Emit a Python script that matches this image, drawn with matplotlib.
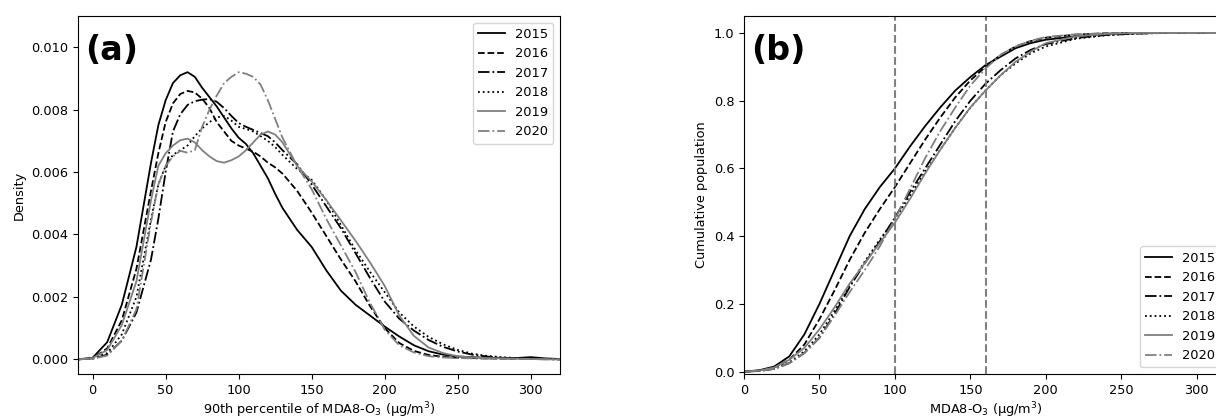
import numpy as np
import matplotlib
matplotlib.use("Agg")
import matplotlib.pyplot as plt

years = ["2015", "2016", "2017", "2018", "2019", "2020"]
colors = ["black", "black", "black", "black", "gray", "gray"]
styles = ["-", "--", "-.", ":", "-", "-."]

# Panel (a): density curves (values x 1e-3)
xa = [-10, 0, 10, 20, 30, 40, 45, 50, 55, 60, 65, 70, 75, 80, 85, 90, 95, 100, 105, 110, 115, 120, 125, 130,
      140, 150, 160, 170, 180, 190, 200, 210, 220, 230, 240, 250, 260, 270, 280, 290, 300, 310, 320]
dens_2015 = [0, 0.05, 0.55, 1.75, 3.6, 6.3, 7.5, 8.3, 8.85, 9.1, 9.2, 9.05, 8.7, 8.4, 8.1, 7.75, 7.4, 7.1, 6.9, 6.6, 6.2, 5.8, 5.3, 4.85,
             4.15, 3.6, 2.85, 2.2, 1.75, 1.4, 1.05, 0.73, 0.45, 0.26, 0.15, 0.09, 0.07, 0.05, 0.04, 0.04, 0.07, 0.03, 0.01]
dens_2016 = [0, 0.03, 0.35, 1.25, 2.9, 5.4, 6.6, 7.6, 8.2, 8.5, 8.6, 8.55, 8.35, 8.05, 7.6, 7.3, 7.0, 6.85, 6.75, 6.65, 6.5, 6.3, 6.15, 5.95,
             5.4, 4.7, 3.95, 3.2, 2.5, 1.7, 1.0, 0.52, 0.27, 0.14, 0.08, 0.05, 0.04, 0.03, 0.02, 0.02, 0.02, 0.01, 0.0]
dens_2017 = [0, 0.02, 0.15, 0.6, 1.5, 3.2, 4.5, 6.0, 7.3, 7.85, 8.15, 8.27, 8.32, 8.34, 8.25, 8.05, 7.8, 7.57, 7.45, 7.35, 7.25, 7.15, 6.95, 6.7,
             6.25, 5.6, 4.9, 4.2, 3.4, 2.6, 1.85, 1.3, 0.92, 0.62, 0.4, 0.25, 0.15, 0.09, 0.05, 0.03, 0.02, 0.01, 0.0]
dens_2018 = [0, 0.03, 0.2, 0.8, 2.0, 4.5, 5.6, 6.2, 6.55, 6.7, 6.85, 7.15, 7.4, 7.6, 7.75, 7.8, 7.65, 7.45, 7.38, 7.3, 7.15, 7.0, 6.8, 6.55,
             6.1, 5.75, 5.1, 4.3, 3.5, 2.8, 2.15, 1.5, 1.05, 0.72, 0.48, 0.3, 0.18, 0.11, 0.07, 0.04, 0.03, 0.01, 0.0]
dens_2019 = [0, 0.04, 0.3, 1.1, 2.5, 5.1, 6.2, 6.6, 6.85, 7.02, 7.07, 6.95, 6.7, 6.5, 6.35, 6.3, 6.38, 6.5, 6.7, 6.95, 7.2, 7.3, 7.2, 6.95,
             6.2, 5.7, 5.1, 4.45, 3.8, 3.1, 2.35, 1.4, 0.75, 0.38, 0.2, 0.1, 0.06, 0.04, 0.03, 0.02, 0.01, 0.0, 0.0]
dens_2020 = [0, 0.02, 0.12, 0.6, 1.6, 4.4, 5.6, 6.2, 6.5, 6.68, 6.62, 6.7, 7.45, 8.0, 8.45, 8.85, 9.05, 9.2, 9.15, 9.05, 8.8, 8.3, 7.7, 7.1,
             6.2, 5.45, 4.5, 3.65, 2.8, 1.8, 0.95, 0.45, 0.22, 0.1, 0.06, 0.04, 0.03, 0.02, 0.02, 0.01, 0.01, 0.0, 0.0]

# Panel (b): cumulative population
xb = [0, 10, 20, 30, 40, 50, 60, 70, 80, 90, 100, 110, 120, 130, 140, 150, 160, 170, 180, 190, 200, 220, 240, 260, 280, 300, 320]
cum_2015 = [0, 0.004, 0.015, 0.045, 0.11, 0.20, 0.30, 0.40, 0.48, 0.545, 0.60, 0.665, 0.725, 0.78, 0.83, 0.87, 0.905, 0.93, 0.955, 0.97, 0.98, 0.99, 0.997, 0.999, 1.0, 1.0, 1.0]
cum_2016 = [0, 0.003, 0.012, 0.035, 0.08, 0.155, 0.24, 0.33, 0.41, 0.48, 0.545, 0.615, 0.685, 0.75, 0.81, 0.86, 0.90, 0.935, 0.96, 0.976, 0.986, 0.995, 0.999, 1.0, 1.0, 1.0, 1.0]
cum_2017 = [0, 0.002, 0.008, 0.025, 0.055, 0.10, 0.17, 0.25, 0.32, 0.385, 0.455, 0.53, 0.60, 0.67, 0.74, 0.80, 0.85, 0.89, 0.925, 0.95, 0.967, 0.985, 0.994, 0.998, 1.0, 1.0, 1.0]
cum_2018 = [0, 0.002, 0.009, 0.027, 0.06, 0.11, 0.18, 0.255, 0.325, 0.39, 0.45, 0.52, 0.59, 0.655, 0.72, 0.78, 0.83, 0.875, 0.91, 0.94, 0.96, 0.983, 0.993, 0.998, 1.0, 1.0, 1.0]
cum_2019 = [0, 0.003, 0.012, 0.035, 0.07, 0.125, 0.19, 0.26, 0.32, 0.38, 0.44, 0.51, 0.585, 0.655, 0.72, 0.78, 0.83, 0.875, 0.915, 0.945, 0.97, 0.99, 0.997, 1.0, 1.0, 1.0, 1.0]
cum_2020 = [0, 0.002, 0.008, 0.025, 0.055, 0.10, 0.165, 0.235, 0.30, 0.37, 0.45, 0.54, 0.63, 0.71, 0.78, 0.845, 0.895, 0.935, 0.96, 0.977, 0.988, 0.996, 0.999, 1.0, 1.0, 1.0, 1.0]

dens = [dens_2015, dens_2016, dens_2017, dens_2018, dens_2019, dens_2020]
cums = [cum_2015, cum_2016, cum_2017, cum_2018, cum_2019, cum_2020]
thresholds = [100, 160]

plt.rcParams['font.family'] = ['DejaVu Sans']
plt.rcParams['font.size'] = 9.3

fig = plt.figure(figsize=(12.16, 4.19), dpi=100)
W, H = 1216, 419
ax1 = fig.add_axes([78 / W, (H - 374) / H, 482 / W, 358 / H])
ax2 = fig.add_axes([744 / W, (H - 374) / H, 483 / W, 358 / H])

lw = 1.3
for y, d, c, s in zip(years, dens, colors, styles):
    ax1.plot(xa, np.array(d) * 1e-3, color=c, ls=s, lw=lw, label=y)
ax1.set_xlim(-10, 320)
ax1.set_ylim(-0.00047, 0.011)
ax1.set_yticks([0, 0.002, 0.004, 0.006, 0.008, 0.010])
ax1.set_ylabel("Density")
ax1.set_xlabel("90th percentile of MDA8-O$_3$ (μg/m$^3$)", labelpad=2.5)
ax1.legend(loc="upper right", fontsize=9.4)
ax1.text(0.0145, 0.95, "(a)", transform=ax1.transAxes, fontsize=24, fontweight="bold", va="top", ha="left")

for y, cv, c, s in zip(years, cums, colors, styles):
    ax2.plot(xb, cv, color=c, ls=s, lw=lw, label=y)
for t in thresholds:
    ax2.axvline(t, color="gray", ls="--", lw=1.5)
ax2.set_xlim(0, 320)
ax2.set_ylim(-0.007, 1.05)
ax2.set_ylabel("Cumulative population")
ax2.set_xlabel("MDA8-O$_3$ (μg/m$^3$)", labelpad=2.5)
ax2.legend(loc="lower right", fontsize=9.4)
ax2.text(0.0145, 0.95, "(b)", transform=ax2.transAxes, fontsize=24, fontweight="bold", va="top", ha="left")

fig.savefig("out.png", dpi=100)
